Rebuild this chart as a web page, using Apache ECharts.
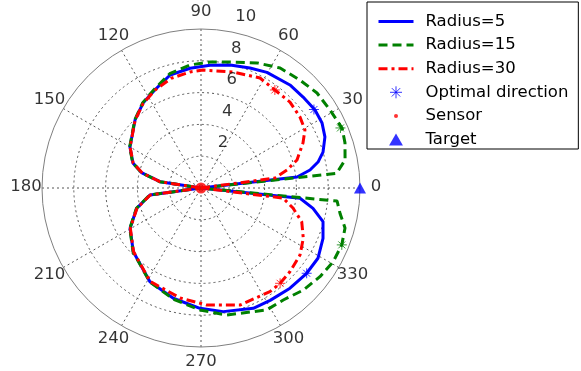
<!DOCTYPE html>
<html><head><meta charset="utf-8">
<script src="https://cdn.jsdelivr.net/npm/echarts@6/dist/echarts.min.js"></script>
<style>html,body{margin:0;padding:0;background:#fff}#c{width:581px;height:371px}</style>
</head><body><div id="c"></div>
<script>
// ---- data (radius, angle in degrees) ----
const angleTicks = [0, 30, 60, 90, 120, 150, 180, 210, 240, 270, 300, 330];
const radiusTicks = [2, 4, 6, 8, 10];
const seriesNames = ['Radius=5', 'Radius=15', 'Radius=30'];

const r5Angles = [0,6.5,9.4,12.5,16.4,22.4,28.2,34.4,41.7,49.2,60.3,67.8,76.7,85.8,95.2,105.3,115.1,124.3,134.1,150,159.8,165.7,171.3,180,187.8,197.5,209.6,223.3,241.4,255.9,269.5,280.2,293.5,301.6,311.6,321.1,329,337.6,344.6,349.7,354.1,360];
const r5Values = [0,6.08,6.95,7.54,8.0,8.43,8.64,8.69,8.6,8.56,8.37,8.15,7.95,7.74,7.56,7.37,6.82,6.47,5.96,5.16,4.56,3.83,2.61,0,3.24,4.24,5.13,5.85,6.71,7.15,7.57,7.9,8.25,8.3,8.43,8.54,8.58,8.3,7.96,7.16,6.26,0];

const r15Angles = [0,6.2,11,17.4,23,31.2,39.3,47.5,56.6,65.9,77,85.9,95.1,105.3,115.1,124.3,134.1,150,159.8,165.7,171.3,180,187.8,197.5,209.6,223.3,241.4,255.9,269.5,281.4,298.3,306.3,315.1,323.3,330.9,338,344.5,349.5,354.5,360];
const r15Values = [0,8.58,9.23,9.49,9.64,9.48,9.43,9.21,9.04,8.62,8.13,7.94,7.77,7.45,6.88,6.5,5.98,5.18,4.58,3.85,2.63,0,3.26,4.26,5.15,5.87,6.73,7.2,7.67,8.15,8.71,8.74,9.09,9.33,9.52,9.55,9.4,8.9,8.6,0];

const r30Angles = [0,7.7,11.8,16.3,23.8,29.2,35.6,44,53,61.8,74.6,89,95.4,105.3,115.1,124.3,134.1,150,159.8,165.7,171.3,180,187.8,197.5,209.6,223.3,241.4,259.2,272.8,288.4,303.6,309.7,316.8,325.9,333.8,341.5,347.7,353,360];
const r30Values = [0,4.7,5.53,6.29,7.01,7.49,7.66,7.78,7.72,7.85,7.57,7.42,7.33,7.15,6.8,6.45,5.95,5.15,4.55,3.8,2.6,0,3.22,4.22,5.11,5.83,6.69,7.04,7.37,7.76,7.83,7.79,7.68,7.52,7.17,6.68,5.92,5.2,0];

const optAngles = [34.8, 321.1, 23.3, 338, 53, 309.7];
const optValues = [8.65, 8.54, 9.55, 9.55, 7.72, 7.79];
const optOwner  = ['Radius=5','Radius=5','Radius=15','Radius=15','Radius=30','Radius=30'];

const sensorAngles = [0];
const sensorValues = [0];
const targetAngles = [0];
const targetValues = [10];

// ---- styles ----
const FONT = 'DejaVu Sans';
const colors = {'Radius=5': '#0000ff', 'Radius=15': '#008000', 'Radius=30': '#ff0000'};
const lineTypes = {'Radius=5': 'solid', 'Radius=15': [9, 5], 'Radius=30': [9, 4, 3, 4]};
const ASTERISK = 'path://M5,0L5,10M0,5L10,5M1.5,1.5L8.5,8.5M1.5,8.5L8.5,1.5';
const DOT_ICON = 'path://M0,0M12,12M8,6A2,2,0,1,1,4,6A2,2,0,1,1,8,6Z';
const TRI_ICON = 'path://M7.5,0L15,13L0,13Z';
const LABEL_R = 11;      // 1.1 * rmax, where polar angle labels sit
const RLABEL_ANGLE = 82; // direction of the ring labels

const pairs = (vals, angs) => vals.map((v, i) => [v, angs[i]]);

const lineSeries = [[r5Values, r5Angles], [r15Values, r15Angles], [r30Values, r30Angles]].map((d, k) => ({
  name: seriesNames[k], type: 'line', coordinateSystem: 'polar',
  data: pairs(d[0], d[1]), symbol: 'circle', showSymbol: false, symbolSize: 0,
  smooth: false, clip: false, silent: true,
  lineStyle: {color: colors[seriesNames[k]], width: 3, type: lineTypes[seriesNames[k]]},
  itemStyle: {color: colors[seriesNames[k]]}, z: 3 + k
}));

const chart = echarts.init(document.getElementById('c'), null, {renderer: 'canvas'});
chart.setOption({
  animation: false,
  backgroundColor: '#fff',
  polar: {center: [201, 188], radius: 159},
  angleAxis: {
    type: 'value', min: 0, max: 360, interval: 30, startAngle: 0, clockwise: false,
    axisLine: {show: true, lineStyle: {color: '#7f7f7f', width: 1}},
    axisTick: {show: false}, axisLabel: {show: false},
    splitLine: {show: true, lineStyle: {color: '#555', width: 1, type: [2, 3]}}
  },
  radiusAxis: {
    type: 'value', min: 0, max: 10, interval: 2,
    axisLine: {show: false}, axisTick: {show: false}, axisLabel: {show: false},
    splitLine: {show: true, lineStyle: {color: ['#555','#555','#555','#555','#555','rgba(0,0,0,0)'], width: 1, type: [2, 3]}}
  },
  legend: {
    orient: 'vertical', left: 367, top: 2,
    itemWidth: 35, itemHeight: 12, itemGap: 6.6,
    padding: [11, 10, 1, 10],
    backgroundColor: '#fff', borderColor: '#000', borderWidth: 1, borderRadius: 0,
    selectedMode: false,
    textStyle: {fontFamily: FONT, fontSize: 16.5, color: '#000', lineHeight: 16, padding: [0, 0, 0, 7]},
    lineStyle: {width: 3},
    data: [
      {name: 'Radius=5', itemStyle: {color: 'rgba(0,0,0,0)', borderWidth: 0}},
      {name: 'Radius=15', itemStyle: {color: 'rgba(0,0,0,0)', borderWidth: 0}},
      {name: 'Radius=30', itemStyle: {color: 'rgba(0,0,0,0)', borderWidth: 0}},
      {name: 'Optimal direction', itemStyle: {borderWidth: 1}},
      {name: 'Sensor', icon: DOT_ICON},
      {name: 'Target', icon: TRI_ICON}
    ]
  },
  series: [
    ...lineSeries,
    {
      name: 'Optimal direction', type: 'scatter', coordinateSystem: 'polar', clip: false, silent: true, z: 7,
      symbol: ASTERISK, symbolSize: 10,
      itemStyle: {color: 'rgba(0,0,0,0)', borderColor: colors['Radius=5'], borderWidth: 1},
      data: optValues.map((v, i) => ({value: [v, optAngles[i]], itemStyle: {borderColor: colors[optOwner[i]]}}))
    },
    {
      name: 'Sensor', type: 'scatter', coordinateSystem: 'polar', clip: false, silent: true, z: 8,
      symbol: 'circle', symbolSize: 11, itemStyle: {color: '#ff0000'},
      data: pairs(sensorValues, sensorAngles)
    },
    {
      name: 'Target', type: 'scatter', coordinateSystem: 'polar', clip: false, silent: true, z: 8,
      symbol: 'triangle', symbolSize: [12, 11], itemStyle: {color: '#0000ff'},
      data: pairs(targetValues, targetAngles)
    },
    {
      name: 'angleLabels', type: 'scatter', coordinateSystem: 'polar', clip: false, silent: true, z: 9,
      symbol: 'circle', symbolSize: 1, itemStyle: {color: 'rgba(0,0,0,0)'},
      data: angleTicks.map(a => [LABEL_R, a]),
      label: {show: true, position: 'inside', offset: [0, -1], fontFamily: FONT, fontSize: 16.5, color: '#000',
        formatter: p => String(angleTicks[p.dataIndex])}
    },
    {
      name: 'radiusLabels', type: 'scatter', coordinateSystem: 'polar', clip: false, silent: true, z: 9,
      symbol: 'circle', symbolSize: 1, itemStyle: {color: 'rgba(0,0,0,0)'},
      data: radiusTicks.map(r => [r + 0.1, RLABEL_ANGLE]),
      label: {show: true, position: 'inside', align: 'left', verticalAlign: 'middle', offset: [12, -12],
        fontFamily: FONT, fontSize: 16.5, color: '#000',
        formatter: p => String(radiusTicks[p.dataIndex])}
    }
  ]
});
</script></body></html>
